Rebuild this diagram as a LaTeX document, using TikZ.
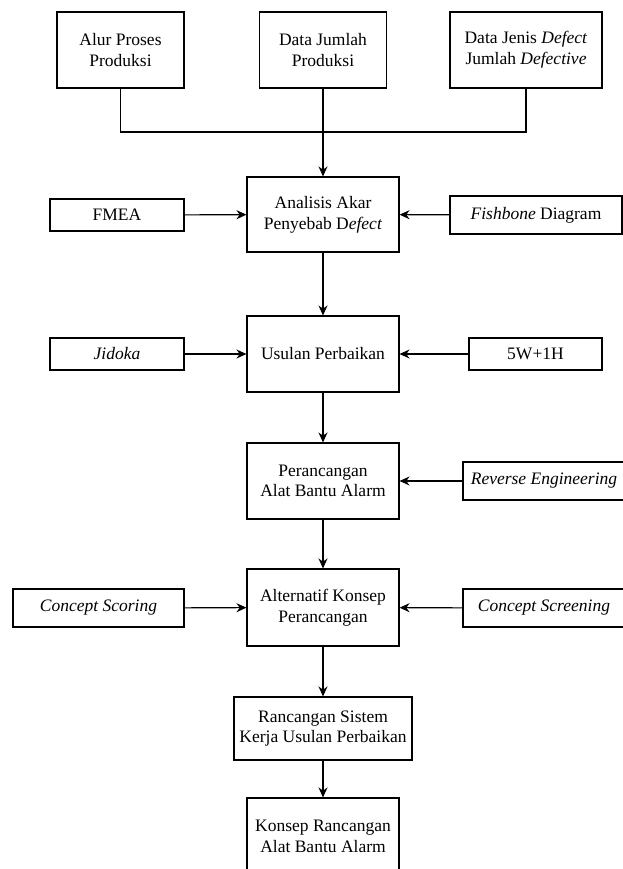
\documentclass[tikz,border=0pt]{standalone}
\usepackage{fontspec}
\setmainfont{Liberation Serif}
\usepackage{tikz}
\usetikzlibrary{positioning,arrows.meta}
\tikzset{
    block/.style = {
        draw,
        line width = 1.1pt,
        align = center,
        inner sep = 2pt,
        minimum width = 152pt,
        minimum height = 76pt,
        font = \rmfamily\fontsize{17.5}{20.7}\selectfont,
    },
    side/.style = {
        draw,
        line width = 1.1pt,
        align = center,
        inner sep = 2pt,
        minimum height = 32pt,
        font = \rmfamily\fontsize{17.5}{20.7}\selectfont,
    },
    link/.style = {
        line width = 1.1pt,
    }
}

\begin{document}
\begin{tikzpicture}[x=1pt,y=-1pt,>={Stealth[length=10pt,width=9pt]}]
    \useasboundingbox (0,0) rectangle (623,869);

    \node[block, minimum width=127pt] (Alur) at (120.5,50) {Alur Proses\\Produksi};
    \node[block, minimum width=127pt] (DataJumlah) at (323,50) {Data Jumlah\\Produksi};
    \node[block] (DataJenis) at (526,50) {Data Jenis \textit{Defect}\\Jumlah \textit{Defective}};
    \coordinate (Join) at (323,132);

    \node[block, minimum height=75pt] (Analisis) at (323,214.5) {Analisis Akar\\Penyebab D\textit{efect}};
    \node[side, minimum width=134pt] (FMEA) at (117,215) {FMEA};
    \node[side, minimum width=172pt, minimum height=38pt] (Fishbone) at (536,215) {\textit{Fishbone} Diagram};

    \node[block] (Usulan) at (323,354) {Usulan Perbaikan};
    \node[side, minimum width=134pt] (Jidoka) at (117,354) {\textit{Jidoka}};
    \node[side, minimum width=133pt] (FiveW) at (535.5,354) {5W+1H};

    \node[block] (Perancangan) at (323,481) {Perancangan\\Alat Bantu Alarm};
    \node[side, minimum width=162pt, minimum height=38pt] (Reverse) at (544,481) {\textit{Reverse Engineering}};

    \node[block, minimum height=77pt] (Alternatif) at (323,607.5) {Alternatif Konsep\\Perancangan};
    \node[side, minimum width=171pt, minimum height=38pt] (Scoring) at (98.5,608) {\textit{Concept Scoring}};
    \node[side, minimum width=162pt, minimum height=38pt] (Screening) at (544,608) {\textit{Concept Screening}};

    \node[block, minimum width=178pt, minimum height=63pt] (Rancangan) at (323,728.5) {Rancangan Sistem\\Kerja Usulan Perbaikan};
    \node[block] (Konsep) at (323,836) {Konsep Rancangan\\Alat Bantu Alarm};

    \draw[link] (Alur) |- (Join);
    \draw[link] (DataJenis) |- (Join);
    \draw[->,link] (DataJumlah) to (Analisis);

    \draw[->,link] (FMEA) to (Analisis);
    \draw[->,link] (Fishbone) to (Analisis);
    \draw[->,link] (Analisis) to (Usulan);

    \draw[->,link] (Jidoka) to (Usulan);
    \draw[->,link] (FiveW) to (Usulan);
    \draw[->,link] (Usulan) to (Perancangan);

    \draw[->,link] (Reverse) to (Perancangan);
    \draw[->,link] (Perancangan) to (Alternatif);

    \draw[->,link] (Scoring) to (Alternatif);
    \draw[->,link] (Screening) to (Alternatif);
    \draw[->,link] (Alternatif) to (Rancangan);
    \draw[->,link] (Rancangan) to (Konsep);

\end{tikzpicture}
\end{document}
